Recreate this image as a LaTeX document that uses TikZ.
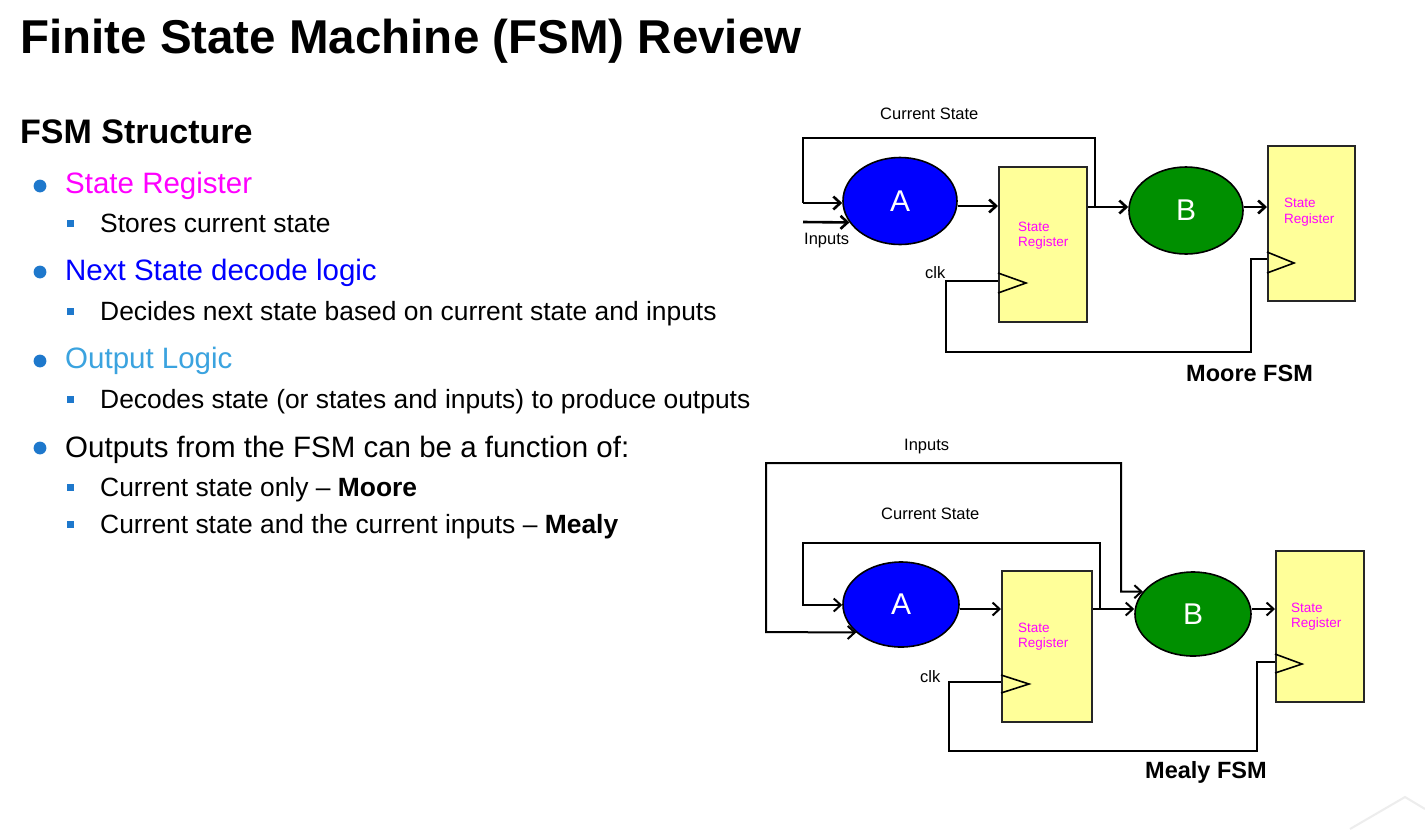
\documentclass[tikz,border=0pt]{standalone}
\usepackage{fontspec}
\setmainfont{Liberation Sans}
\usetikzlibrary{arrows.meta,shapes.geometric}
\definecolor{bulletblue}{HTML}{1E78CC}
\definecolor{outlogic}{HTML}{3BA3DF}
\definecolor{fsmblue}{HTML}{0000FF}
\definecolor{fsmgreen}{HTML}{008F00}
\definecolor{fsmmag}{HTML}{FF00FF}
\definecolor{regyellow}{HTML}{FFFF99}
\definecolor{regedge}{HTML}{262626}
\begin{document}
\begin{tikzpicture}[x=1pt,y=-1pt,
  txt/.style={anchor=base west, inner sep=0pt},
  lvlone/.style={txt, font=\fontsize{29.5}{34}\selectfont},
  lvltwo/.style={txt, font=\fontsize{26.4}{30}\selectfont},
  lbl/.style={txt, font=\fontsize{16.5}{20}\selectfont},
  reglbl/.style={txt, text=fsmmag, font=\fontsize{13.5}{16}\selectfont},
  caption/.style={txt, font=\fontsize{23.5}{28}\selectfont\bfseries},
  stA/.style={ellipse, draw=black, line width=1.6pt, fill=fsmblue, text=white,
    inner sep=0pt, font=\fontsize{30}{36}\selectfont},
  stB/.style={stA, fill=fsmgreen},
  reg/.style={rectangle, draw=regedge, line width=2pt, fill=regyellow, inner sep=0pt},
  tip/.style={-{Straight Barb[length=7pt,width=13pt]}},
  sig/.style={line width=2.6pt, tip},
  frame/.style={line width=1.6pt},
  ysig/.style={line width=2pt, tip},
  yframe/.style={line width=2pt},
  clkmark/.style={line width=1.6pt, line join=miter}
]
\useasboundingbox (0,0) rectangle (1425,831);
\fill[white] (0,0) rectangle (1425,831);

% ---------- headings ----------
\node[txt, font=\fontsize{47.5}{56}\selectfont\bfseries] (title) at (20,53)
  {Finite State Machine (FSM) Review};
\node[txt, font=\fontsize{34}{40}\selectfont\bfseries] (sub) at (20,143) {FSM Structure};

% ---------- bullet list ----------
\foreach \y in {186,272,361,448} \fill[bulletblue] (40,\y) circle (6.4);
\foreach \y in {232,320,408,496,533}
  \fill[bulletblue] (67,\y-12.5) rectangle (74,\y-5);

\node[lvlone, text=fsmmag] (b1) at (65,193) {State Register};
\node[lvltwo] (b1a) at (100,232) {Stores current state};
\node[lvlone, text=fsmblue] (b2) at (65,280) {Next State decode logic};
\node[lvltwo] (b2a) at (100,320) {Decides next state based on current state and inputs};
\node[lvlone, text=outlogic] (b3) at (65,368) {Output Logic};
\node[lvltwo] (b3a) at (100,408) {Decodes state (or states and inputs) to produce outputs};
\node[lvlone] (b4) at (65,457) {Outputs from the FSM can be a function of:};
\node[lvltwo] (b4a) at (100,496) {Current state only – \textbf{Moore}};
\node[lvltwo] (b4b) at (100,533) {Current state and the current inputs – \textbf{Mealy}};

% ---------- Moore FSM ----------
\node[stA, minimum width=114pt, minimum height=87pt] (mA) at (900,201) {A};
\node[reg, minimum width=88pt, minimum height=155pt] (mR1) at (1043,244.5) {};
\node[stB, minimum width=114pt, minimum height=87pt] (mB) at (1186,210.5) {B};
\node[reg, minimum width=87pt, minimum height=155pt] (mR2) at (1311.5,223.5) {};

\draw[clkmark] (mR1.west |- 0,273) -- (1026,283) -- (mR1.west |- 0,293);
\draw[clkmark] (mR2.west |- 0,252) -- (1294,263) -- (mR2.west |- 0,273);

\node[reglbl] (mR1a) at (1018,231) {State};
\node[reglbl] (mR1b) at (1018,246) {Register};
\node[reglbl] (mR2a) at (1284,207) {State};
\node[reglbl] (mR2b) at (1284,223) {Register};

\coordinate (mTap) at (1095,207);
\coordinate (mLoopL) at (803,138);
\coordinate (mLoopIn) at (803,203);
\coordinate (mIn) at (803,222);
\coordinate (mClkL) at (946,352);
\coordinate (mClkR) at (1251,352);

\draw[sig] (mA.east |- 0,206) -- (mR1.west |- 0,206);
\draw[sig] (mR1.east |- 0,207) -- (mB.west |- 0,207);
\draw[sig] (mB.east |- 0,207) -- (mR2.west |- 0,207);
\draw[frame] (mTap) |- (mLoopL) -- (mLoopIn);
\draw[sig] (mLoopIn) -- (mA.west |- mLoopIn);
\draw[sig] (mIn) -- (mA.203);
\draw[frame] (mR1.west |- 0,281) -| (mClkL) -- (mClkR) |- (mR2.west |- 0,259);

\node[lbl] (mCS) at (880,119) {Current State};
\node[lbl] (mInL) at (804,244) {Inputs};
\node[lbl] (mClk) at (925,278) {clk};
\node[caption] (moore) at (1186,381) {Moore FSM};

% ---------- Mealy FSM ----------
\node[stA, minimum width=116pt, minimum height=85pt] (yA) at (901,604.5) {A};
\node[reg, minimum width=90pt, minimum height=151pt] (yR1) at (1047,646.5) {};
\node[stB, minimum width=116pt, minimum height=84pt] (yB) at (1193,614) {B};
\node[reg, minimum width=88pt, minimum height=151pt] (yR2) at (1320,626.5) {};

\draw[clkmark] (yR1.west |- 0,675) -- (1029,684) -- (yR1.west |- 0,693);
\draw[clkmark] (yR2.west |- 0,654) -- (1302,664) -- (yR2.west |- 0,673);

\node[reglbl] (yR1a) at (1018,632) {State};
\node[reglbl] (yR1b) at (1018,647) {Register};
\node[reglbl] (yR2a) at (1291,612) {State};
\node[reglbl] (yR2b) at (1291,627) {Register};

\coordinate (yTap) at (1100,609);
\coordinate (yLoopL) at (803,543);
\coordinate (yInTR) at (1121,463);
\coordinate (yInBL) at (766,632);
\coordinate (yClkL) at (949,751);
\coordinate (yClkR) at (1257,751);

\draw[ysig] (yA.east |- 0,609) -- (yR1.west |- 0,609);
\draw[ysig] (yR1.east |- 0,609) -- (yB.west |- 0,609);
\draw[ysig] (yB.east |- 0,609) -- (yR2.west |- 0,609);
\draw[ysig] (yTap) |- (yLoopL) |- (yA.west |- 0,605);
\draw[line width=2pt, {Straight Barb[length=7pt,width=13pt]}-{Straight Barb[length=7pt,width=13pt]}]
  (yB.156) -| (yInTR) -| (yInBL) -- (yA.212);
\draw[yframe] (yR1.west |- 0,682) -| (yClkL) -- (yClkR) |- (yR2.west |- 0,662);

\node[lbl] (yInL) at (904,450) {Inputs};
\node[lbl] (yCS) at (881,519) {Current State};
\node[lbl] (yClk) at (920,682) {clk};
\node[caption] (mealy) at (1145,778) {Mealy FSM};

% ---------- faint corner ornament ----------
\draw[line width=2pt, black!7] (1350,829) -- (1405,797) -- (1425,809);
\end{tikzpicture}
\end{document}
